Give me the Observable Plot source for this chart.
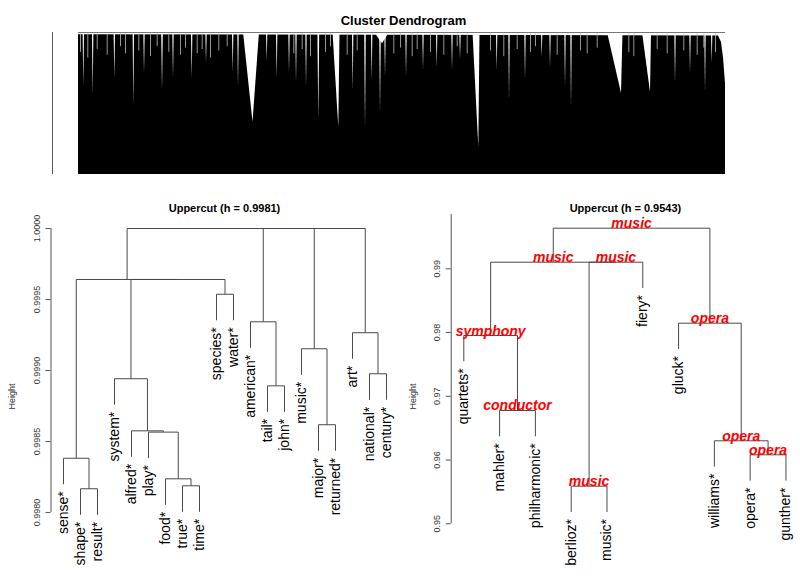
<!DOCTYPE html>
<html><head><meta charset="utf-8">
<script src="https://cdn.jsdelivr.net/npm/d3@7"></script>
<script src="https://cdn.jsdelivr.net/npm/@observablehq/plot@0.6"></script>
<style>
body{margin:0;background:#fff;}
#wrap{position:relative;width:800px;height:578px;font-family:"Liberation Sans",Arial,Helvetica,sans-serif;}
#wrap svg{position:absolute;font-family:"Liberation Sans",Arial,Helvetica,sans-serif;}
</style></head><body><div id="wrap"></div>
<script>
// ---------- Top: full cluster dendrogram (dense, drawn as silhouette) ----------
const topTitle = "Cluster Dendrogram";
// outline of the black mass: leaf position (0..647) and relative height (0..1)
const topOutlineX = [0, 640, 643, 645, 647];
const topOutlineH = [0.985, 0.975, 0.93, 0.82, 0.64];
// visible white gaps between large clusters: left edge, tip, right edge, tip height
const notchLeft  = [4.6,14,35.6,54.6,65.3,83.2,94.3,113,127.3,154,159.3,165,188,198,210.3,217.3,227.3,239.4,254.5,274,286.2,293,301.2,296,306.3,327.3,344.3,358,373.3,381.3,394.5,418,430.3,446.3,463,471.3,486.3,492.3,529,564,596.3,611.3,626.3,633];
const notchTip   = [5.3,14.7,36.3,55.3,66,84,95,113.7,128,154.7,160,174.5,188.7,198.7,211,218,228,240.3,260.3,274.7,287,293.7,302,304,307,328,345,358.7,374,382,400.3,418.7,431,447,463.7,472,487,493,543,572,597,612,627,633.7];
const notchRight = [6,15.4,37,56,66.7,84.8,95.7,114.4,128.7,155.4,160.7,181,189.4,199.4,211.7,218.7,228.7,241.2,261.5,275.4,287.8,294.4,302.8,311,307.7,328.7,345.7,359.4,374.7,382.7,401.5,419.4,431.7,447.7,464.4,472.7,487.7,493.7,544.5,573,597.7,612.7,627.7,634.4];
const notchDepth = [0.627,0.556,0.676,0.486,0.711,0.592,0.676,0.676,0.782,0.718,0.613,0.368,0.803,0.676,0.711,0.641,0.613,0.380,0.331,0.592,0.324,0.662,0.430,0.92,0.683,0.683,0.732,0.754,0.732,0.803,0.192,0.732,0.521,0.662,0.824,0.754,0.613,0.465,0.570,0.577,0.641,0.711,0.577,0.782];
// short fine gaps in the fringe at the top of the mass: position and tip height
const fringeX = [2,9.3,18.7,28.7,42,47,60.3,72,78.7,90.3,102,107,118.7,123.7,132,140.3,148.7,215.3,223.7,232,247,252,268.7,278.7,315.3,322,333.7,338.7,352,365.3,378.7,388.7,412,425.3,438.7,452,457,478.7,502,508.7,518.7,550.3,555.3,578.7,588.7,605.3,618.7,625.3,637];
const fringeH = [0.86,0.82,0.88,0.84,0.9,0.85,0.87,0.83,0.9,0.86,0.84,0.89,0.85,0.88,0.82,0.87,0.9,0.85,0.88,0.83,0.86,0.9,0.84,0.87,0.85,0.89,0.83,0.88,0.86,0.84,0.9,0.85,0.87,0.83,0.88,0.86,0.9,0.84,0.87,0.85,0.89,0.86,0.83,0.88,0.85,0.87,0.84,0.89,0.86];

// ---------- Bottom left: Uppercut (h = 0.9981) ----------
const leftTitle = "Uppercut (h = 0.9981)";
const leftLabels = ["sense*","shape*","result*","system*","alfred*","play*","food*","true*","time*","species*","water*","american*","tail*","john*","music*","major*","returned*","art*","national*","century*"];
// hclust-style merges: negative = leaf index, positive = earlier merge row
const leftMergeA = [-2,-8,-7,-1,-6,-5,-16,-13,-4,-19,-15,-18,-12,-10, 9, 4,16,11,17];
const leftMergeB = [-3,-9, 2, 1, 3, 5,-17,-14, 6,-20,  7, 10,  8,-11,14,15,13,12,18];
const leftMergeH = [0.998167,0.998188,0.998237,0.998382,0.998566,0.998575,0.998618,0.998892,0.998942,0.998977,0.999153,0.999266,0.999343,0.999537,0.999641,0.999641,1.0,1.0,1.0];
const leftTicks = [0.998, 0.9985, 0.999, 0.9995, 1.0];

// ---------- Bottom right: Uppercut (h = 0.9543) ----------
const rightTitle = "Uppercut (h = 0.9543)";
const rightLabels = ["quartets*","mahler*","philharmonic*","berlioz*","music*","fiery*","gluck*","williams*","opera*","gunther*"];
const rightMergeA = [-4,-9,-8,-2,-1,-7, 1, 5, 8];
const rightMergeB = [-5,-10, 2,-3, 4, 3,-6, 7, 6];
const rightMergeH = [0.955898,0.960824,0.963020,0.967773,0.979537,0.981467,0.991035,0.991035,0.996369];
const rightMergeLabel = ["music","opera","opera","conductor","symphony","opera","music","music","music"];
const rightTicks = [0.95, 0.96, 0.97, 0.98, 0.99];
const rightAxisTop = 0.9985;

// ---------- layout helper (R plot.dendrogram conventions) ----------
function dendro(labels, mA, mB, mH, mLab) {
  const hang = 0.1 * (d3.max(mH) - d3.min(mH));
  const nodeX = [], segs = [], leaves = [], nodes = [];
  const pos = c => c < 0 ? -c : nodeX[c - 1];
  const bottom = (c, h) => c < 0 ? h - hang : mH[c - 1];
  mA.forEach((a, i) => {
    const b = mB[i], h = mH[i];
    const xa = pos(a), xb = pos(b);
    nodeX[i] = (xa + xb) / 2;
    segs.push({x1: xa, x2: xb, y1: h, y2: h});
    segs.push({x1: xa, x2: xa, y1: h, y2: bottom(a, h)});
    segs.push({x1: xb, x2: xb, y1: h, y2: bottom(b, h)});
    for (const c of [a, b]) if (c < 0) leaves.push({x: -c, y: h - hang, label: labels[-c - 1]});
    if (mLab) nodes.push({x: nodeX[i], y: h, label: mLab[i]});
  });
  return {segs, leaves, nodes};
}

const wrap = document.getElementById("wrap");
const lineCol = "#4a4a4a", axisCol = "#555";

// ---------- top plot ----------
const topXDomain = [-26, 676];
const notchRows = notchTip.flatMap((t, i) => [
  {id: i, x: notchLeft[i], y: 1}, {id: i, x: t, y: notchDepth[i]}, {id: i, x: notchRight[i], y: 1}]);
const fringeRows = fringeX.map((x, i) => ({x, h: fringeH[i]}));
const topPlot = Plot.plot({
  width: 800, height: 180, marginLeft: 52, marginRight: 46, marginTop: 32, marginBottom: 6,
  x: {domain: topXDomain, axis: null}, y: {domain: [0, 1], axis: null},
  marks: [
    Plot.areaY(topOutlineX.map((x, i) => ({x, h: topOutlineH[i]})), {x: "x", y: "h", fill: "black"}),
    Plot.areaY(notchRows, {x: "x", y1: "y", y2: 1, z: "id", fill: "white", curve: "linear"}),
    Plot.ruleX(fringeRows, {x: "x", y1: "h", y2: 0.99, stroke: "#bbb", strokeWidth: 0.8}),
    Plot.ruleY([1], {x1: 0, x2: topOutlineX[topOutlineX.length - 1], stroke: "#777", strokeWidth: 1}),
    Plot.ruleX([topXDomain[0]], {y1: 0, y2: 1, stroke: axisCol}),
    Plot.text([topTitle], {frameAnchor: "top", dy: -17, fontSize: 13, fontWeight: "bold", fill: "black"})
  ]
});
topPlot.style.left = "0px"; topPlot.style.top = "0px";
wrap.appendChild(topPlot);

// ---------- bottom plots ----------
function panel({title, labels, mA, mB, mH, mLab, ticks, fmt, axisTop, xDomain, yDomain, marginLeft, marginRight, left}) {
  const {segs, leaves, nodes} = dendro(labels, mA, mB, mH, mLab);
  const p = Plot.plot({
    width: 400, height: 398, marginLeft, marginRight, marginTop: 34, marginBottom: 0,
    x: {domain: xDomain, axis: null},
    y: {domain: yDomain},
    marks: [
      Plot.axisY({ticks, tickFormat: d3.format(fmt), tickRotate: -90, tickSize: 5, tickPadding: 6,
        fontSize: 9, color: "#333", stroke: axisCol,
        label: "Height", labelAnchor: "center", labelArrow: "none", labelOffset: 42}),
      Plot.ruleX([xDomain[0]], {y1: ticks[0], y2: axisTop, stroke: axisCol}),
      Plot.link(segs, {x1: "x1", y1: "y1", x2: "x2", y2: "y2", stroke: lineCol, strokeWidth: 1}),
      Plot.text(leaves, {x: "x", y: "y", text: "label", rotate: -90, textAnchor: "end", lineAnchor: "middle",
        dy: 7, fontSize: 14, fill: "black"}),
      mLab ? Plot.text(nodes, {x: "x", y: "y", text: "label", lineAnchor: "bottom", dy: 0, fontSize: 14,
        fontWeight: "bold", fontStyle: "italic", fill: "red"}) : null,
      Plot.text([title], {frameAnchor: "top", dy: -10, dx: 1.5, fontSize: 11, fontWeight: "bold", fill: "black"})
    ]
  });
  p.style.left = left + "px"; p.style.top = "180px";
  wrap.appendChild(p);
}

panel({title: leftTitle, labels: leftLabels, mA: leftMergeA, mB: leftMergeB, mH: leftMergeH, mLab: null,
  ticks: leftTicks, fmt: ".4f", axisTop: 1.0,
  xDomain: [0.2647, 20.5], yDomain: [0.997535, 1.0000986], marginLeft: 50.5, marginRight: 5.5, left: 0});

panel({title: rightTitle, labels: rightLabels, mA: rightMergeA, mB: rightMergeB, mH: rightMergeH, mLab: rightMergeLabel,
  ticks: rightTicks, fmt: ".2f", axisTop: rightAxisTop,
  xDomain: [0.648, 10.3], yDomain: [0.94142, 0.998518], marginLeft: 50.7, marginRight: 3.8, left: 400});
</script></body></html>
